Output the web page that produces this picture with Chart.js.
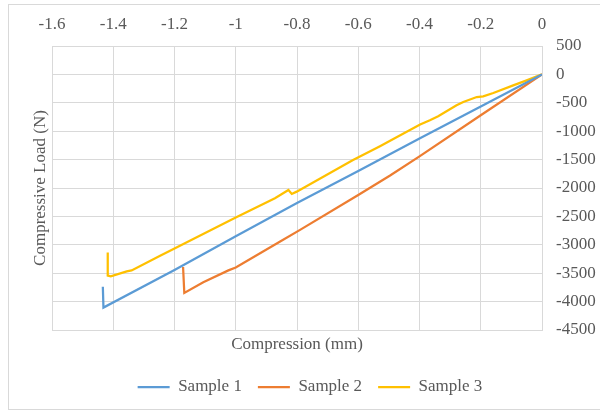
<!DOCTYPE html>
<html>
<head>
<meta charset="utf-8">
<title>Compression test</title>
<script src="https://cdn.jsdelivr.net/npm/chart.js@4/dist/chart.umd.min.js"></script>
<style>
    html, body { margin: 0; padding: 0; background: #ffffff; }
    #wrap { width: 600px; height: 412px; }
</style>
</head>
<body>
<div id="wrap"><canvas id="loadChart" width="600" height="412"></canvas></div>
<script>
// Sample 1
const sample1X = [0, -0.2, -0.4, -0.6, -0.8, -1.0, -1.2, -1.432, -1.434];
const sample1Y = [0, -567, -1129, -1700, -2265, -2848, -3444, -4105, -3737];

// Sample 2
const sample2X = [0, -0.2, -0.4, -0.496, -0.6, -0.79, -0.855, -1.0, -1.024, -1.106, -1.168, -1.172];
const sample2Y = [0, -719, -1444, -1780, -2123, -2737, -2942, -3400, -3450, -3661, -3848, -3390];

// Sample 3
const sample3X = [0, -0.05, -0.094, -0.159, -0.192, -0.213, -0.257, -0.279, -0.339, -0.366, -0.398,
    -0.496, -0.529, -0.617, -0.801, -0.817, -0.828, -0.872, -1.0, -1.2, -1.247, -1.34, -1.356, -1.408, -1.418, -1.418];
const sample3Y = [0, -105, -193, -328, -386, -398, -486, -544, -737, -807, -883,
    -1170, -1263, -1509, -2064, -2105, -2035, -2181, -2518, -3064, -3192, -3451, -3468, -3556, -3544, -3135];

const seriesNames = ['Sample 1', 'Sample 2', 'Sample 3'];
const seriesColors = ['#5B9BD5', '#ED7D31', '#FFC000'];

const xTitle = 'Compression (mm)';
const yTitle = 'Compressive Load (N)';

const GRID = '#d9d9d9';
const TEXT = '#595959';

Chart.defaults.font.family = '"Liberation Serif", "Times New Roman", serif';
Chart.defaults.font.size = 17;
Chart.defaults.color = TEXT;

/**
 * Zip two arrays into scatter points
 */
function toPoints(xs, ys) {
    return xs.map((x, i) => ({ x: x, y: ys[i] }));
}

/**
 * Build one line dataset
 */
function makeDataset(i, xs, ys) {
    return {
        label: seriesNames[i],
        data: toPoints(xs, ys),
        borderColor: seriesColors[i],
        backgroundColor: seriesColors[i],
        borderWidth: 2.25,
        pointRadius: 0,
        pointStyle: 'line',
        showLine: true,
        fill: false,
        tension: 0,
    };
}

// light grey frame round the whole chart
const framePlugin = {
    id: 'frame',
    beforeDraw(chart) {
        const ctx = chart.ctx;
        ctx.save();
        ctx.fillStyle = '#ffffff';
        ctx.fillRect(0, 0, chart.width, chart.height);
        ctx.strokeStyle = GRID;
        ctx.lineWidth = 1;
        ctx.strokeRect(8.5, 4.5, 600, 405);
        ctx.restore();
    },
};

const ctx = document.getElementById('loadChart');

new Chart(ctx, {
    type: 'scatter',
    data: {
        datasets: [
            makeDataset(0, sample1X, sample1Y),
            makeDataset(1, sample2X, sample2Y),
            makeDataset(2, sample3X, sample3Y),
        ],
    },
    options: {
        responsive: false,
        animation: false,
        layout: {
            padding: { left: 20, right: 0, top: 0, bottom: 6.5 },
        },
        plugins: {
            tooltip: { enabled: false },
            legend: {
                position: 'bottom',
                labels: {
                    usePointStyle: true,
                    pointStyle: 'line',
                    pointStyleWidth: 32,
                    padding: 16,
                    color: TEXT,
                },
            },
        },
        scales: {
            x: {
                type: 'linear',
                position: 'top',
                min: -1.6,
                max: 0,
                afterFit: (s) => { s.height = 46; },
                ticks: {
                    stepSize: 0.2,
                    padding: 11,
                    callback: (v) => Number(v.toFixed(1)).toString(),
                },
                grid: { color: GRID, drawTicks: false },
                border: { color: GRID },
            },
            y: {
                type: 'linear',
                position: 'right',
                min: -4500,
                max: 500,
                afterFit: (s) => { s.width = 58; },
                ticks: {
                    stepSize: 500,
                    padding: 14,
                    callback: (v) => v.toString(),
                },
                grid: { color: GRID, drawTicks: false },
                border: { color: GRID },
            },
            // title-only axes, opposite the tick labels
            xb: {
                type: 'linear',
                position: 'bottom',
                afterFit: (s) => { s.height = 32.5; },
                ticks: { display: false },
                grid: { display: false },
                border: { display: false },
                title: {
                    display: true,
                    text: xTitle,
                    color: TEXT,
                    padding: { top: 0, bottom: 8 },
                },
            },
            yl: {
                type: 'linear',
                position: 'left',
                afterFit: (s) => { s.width = 32; },
                ticks: { display: false },
                grid: { display: false },
                border: { display: false },
                title: {
                    display: true,
                    text: yTitle,
                    color: TEXT,
                    padding: { top: 10, bottom: 0 },
                },
            },
        },
    },
    plugins: [framePlugin],
});
</script>
</body>
</html>
